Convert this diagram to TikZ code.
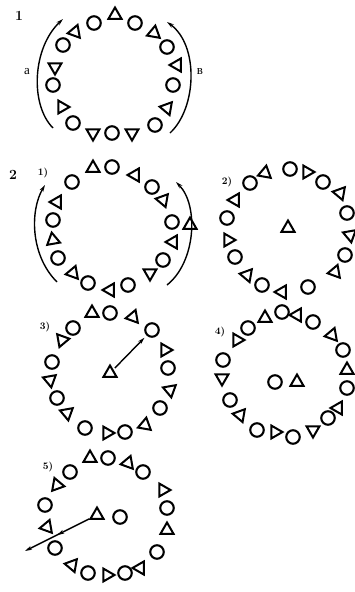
\documentclass[tikz,border=0pt]{standalone}
\usepackage{fontspec}
\newfontfamily\cyr{Liberation Serif}
\usetikzlibrary{shapes.geometric,arrows.meta,decorations.markings}
\begin{document}
\begin{tikzpicture}[x=1pt,y=-1pt,
  circ/.style={circle,draw,line width=2.1pt,minimum size=13.5pt,inner sep=0pt},
  tri/.style={regular polygon,regular polygon sides=3,draw,line width=2pt,line join=miter,minimum size=15pt,inner sep=0pt},
  arcline/.style={line width=1.4pt,-{Stealth[length=7pt,width=4pt]}},
  arr/.style={line width=1.4pt,-{Stealth[length=7pt,width=4pt]}},
  lab/.style={font=\bfseries\fontsize{10}{12}\selectfont,inner sep=0pt},
  big/.style={font=\bfseries\fontsize{14}{16}\selectfont,inner sep=0pt}]
\useasboundingbox (0,0) rectangle (355,592);
% ---------- figure 1
\node[big] (n1) at (19,16) {1};
\node[big] (n2) at (13,175) {2};
\foreach \x/\y [count=\i] in {135/23,167/47,173/85,155/125,112/133,73/123,53/85,63/45,94/23}
  \node[circ] (c1-\i) at (\x,\y) {};
\foreach \x/\y/\a [count=\i] in {115/15/90,154/33/200,177/65/180,167/108/170,132/133/270,93/133/270,62/107/0,55/67/150,75/32/190}
  \node[tri,rotate=\a-90] (t1-\i) at (\x,\y) {};
\coordinate (a1s) at (53,128); \coordinate (a1e) at (63,19);
\coordinate (b1s) at (170,133); \coordinate (b1e) at (167,22);
\draw[arcline] (a1s) .. controls (30,105) and (32,48) .. (a1e);
\draw[arcline] (b1s) .. controls (197,108) and (199,45) .. (b1e);
\node[font=\cyr\fontsize{13}{15}\selectfont,inner sep=0pt] (la) at (27,72) {а};
\node[font=\cyr\fontsize{13}{15}\selectfont,inner sep=0pt] (lb) at (200,72) {в};
% ---------- figure 2-1
\node[lab] (l1) at (43,173) {1)};
\foreach \x/\y [count=\i] in {112/167,152/187,172/222,163/260,128/285,88/283,58/258,53/220,72/182}
  \node[circ] (c2-\i) at (\x,\y) {};
\foreach \x/\y/\a [count=\i] in {93/168/90,135/175/180,163/200/170,173/242/180,150/273/150,110/290/180,73/273/190,53/240/100,57/202/180,190/225/90}
  \node[tri,rotate=\a-90] (t2-\i) at (\x,\y) {};
\coordinate (a2s) at (57,282); \coordinate (a2e) at (45,185);
\coordinate (b2s) at (167,285); \coordinate (b2e) at (176,182);
\draw[arcline] (a2s) .. controls (30,255) and (30,210) .. (a2e);
\draw[arcline] (b2s) .. controls (196,262) and (199,205) .. (b2e);
% ---------- figure 2-2
\node[lab] (l2) at (227,182) {2)};
\foreach \x/\y [count=\i] in {250/183,290/169,323/182,347/213,345/255,308/287,262/285,235/257,227/218}
  \node[circ] (c3-\i) at (\x,\y) {};
\foreach \x/\y/\a [count=\i] in {265/173/200,307/172/0,340/193/170,350/235/280,335/272/190,282/292/180,247/275/170,228/240/120,235/200/180,288/228/90}
  \node[tri,rotate=\a-90] (t3-\i) at (\x,\y) {};
% ---------- figure 2-3
\node[lab] (l3) at (45,327) {3)};
\foreach \x/\y [count=\i] in {73/328,110/313,152/330,168/368,160/408,125/432,85/428,57/398,52/362}
  \node[circ] (c4-\i) at (\x,\y) {};
\foreach \x/\y/\a [count=\i] in {92/313/90,133/317/190,165/350/0,170/390/160,145/425/200,107/433/0,67/413/160,50/380/280,62/340/130,110/373/90}
  \node[tri,rotate=\a-90] (t4-\i) at (\x,\y) {};
\draw[arr,shorten >=3pt,shorten <=2pt] (t4-10) -- (c4-3);
% ---------- figure 2-4
\node[lab] (l4) at (220,332) {4)};
\foreach \x/\y [count=\i] in {248/328,282/312,313/322,343/350,347/388,328/418,293/437,257/430,230/400,223/360,275/382}
  \node[circ] (c5-\i) at (\x,\y) {};
\foreach \x/\y/\a [count=\i] in {237/340/120,265/318/90,297/315/180,332/335/190,347/370/90,338/408/180,313/430/270,275/432/0,240/415/170,222/378/270,297/382/90}
  \node[tri,rotate=\a-90] (t5-\i) at (\x,\y) {};
% ---------- figure 2-5
\node[lab] (l5) at (48,467) {5)};
\foreach \x/\y [count=\i] in {70/472,108/458,143/472,167/508,157/552,125/573,88/573,55/548,45/505,120/517}
  \node[circ] (c6-\i) at (\x,\y) {};
\foreach \x/\y/\a [count=\i] in {90/458/90,128/463/190,163/490/0,167/530/90,140/568/180,107/575/0,72/565/170,47/527/190,57/485/110,97/515/90}
  \node[tri,rotate=\a-90] (t6-\i) at (\x,\y) {};
\coordinate (e6) at (25,551);
\draw[arr,postaction={decorate},decoration={markings,mark=at position 0.5 with {\arrow{Stealth[length=7pt,width=4pt]}}}] (t6-10) -- (e6);
\end{tikzpicture}
\end{document}
